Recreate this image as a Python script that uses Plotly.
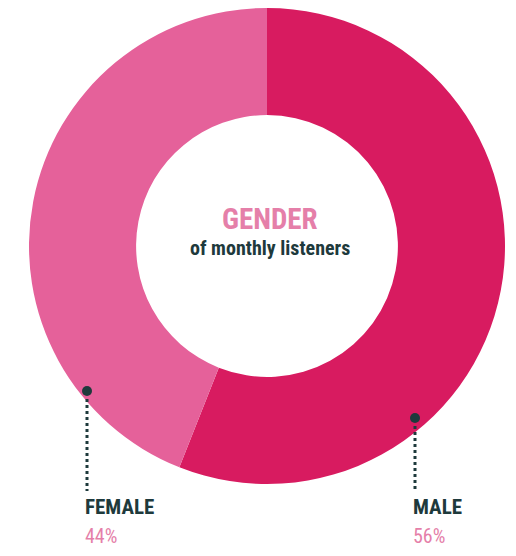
import plotly.graph_objects as go

# page is offset by the browser's 8px body margin; size the figure to fit the 516x556 window
PAGE_W, PAGE_H = 516, 556
OFF = 8
W, H = PAGE_W - 2 * OFF, PAGE_H - 2 * OFF

categories = ["MALE", "FEMALE"]
shares = [56, 44]
slice_colors = ["#D81B60", "#E5619A"]

title_main = "GENDER"
title_sub = "of monthly listeners"

DARK = "#1E3A3C"
PINK_TXT = "#E57FA9"
FONT = "Roboto Condensed, Liberation Sans Narrow, DejaVu Sans Condensed, Arial Narrow, sans-serif"


def px(x):
    return (x - OFF) / W


def py(y):
    return 1 - (y - OFF) / H


cx, cy, r = 267, 246, 238

fig = go.Figure(go.Pie(
    labels=categories,
    values=shares,
    hole=0.55,
    sort=False,
    direction="clockwise",
    rotation=0,
    textinfo="none",
    hoverinfo="label+percent",
    marker=dict(colors=slice_colors, line=dict(width=0)),
    domain=dict(x=[px(cx - r), px(cx + r)], y=[py(cy + r), py(cy - r)]),
    showlegend=False,
))

annotations = [
    dict(text="<b>%s</b>" % title_main, x=px(270), y=py(219),
         font=dict(size=29, color=PINK_TXT, family=FONT)),
    dict(text="<b>%s</b>" % title_sub, x=px(270), y=py(248),
         font=dict(size=20, color=DARK, family=FONT)),
]

label_pos = {"FEMALE": (83, 391), "MALE": (411, 418)}
shapes = []
for cat, val in zip(categories, shares):
    lx, dot_y = label_pos[cat]
    annotations.append(dict(text="<b>%s</b>" % cat, x=px(lx), y=py(507), xanchor="left",
                            font=dict(size=21, color=DARK, family=FONT)))
    annotations.append(dict(text="%d%%" % val, x=px(lx), y=py(536), xanchor="left",
                            font=dict(size=20, color=PINK_TXT, family=FONT)))
    dx = lx + 4
    shapes.append(dict(type="line", xref="paper", yref="paper", x0=px(dx), x1=px(dx),
                       y0=py(dot_y + 8), y1=py(491), line=dict(color=DARK, width=3, dash="dot")))
    shapes.append(dict(type="circle", xref="paper", yref="paper",
                       x0=px(dx - 5), x1=px(dx + 5), y0=py(dot_y - 5), y1=py(dot_y + 5),
                       fillcolor=DARK, line=dict(width=0)))

for a in annotations:
    a.update(xref="paper", yref="paper", showarrow=False, yanchor="middle")
    a.setdefault("xanchor", "center")

fig.update_layout(
    width=W, height=H,
    margin=dict(l=0, r=0, t=0, b=0),
    paper_bgcolor="white", plot_bgcolor="white",
    annotations=annotations, shapes=shapes,
)

fig.write_html("out.html")
